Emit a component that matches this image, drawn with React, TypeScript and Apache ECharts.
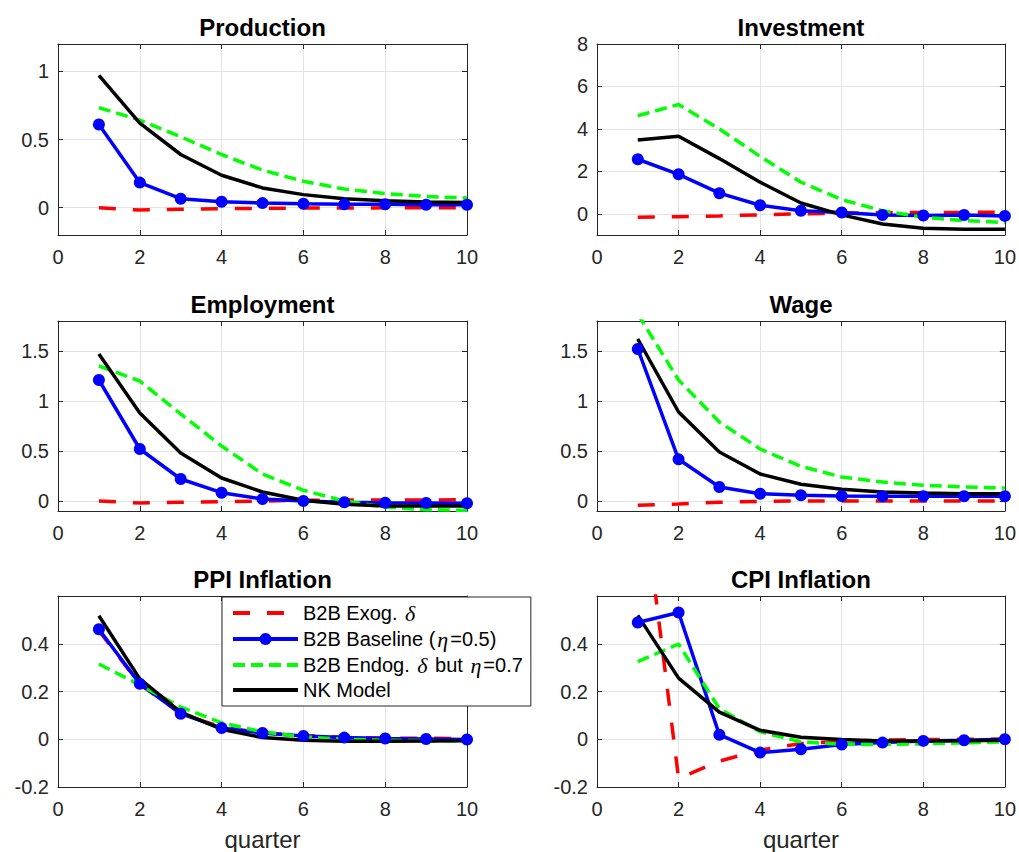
import React, { useEffect, useRef } from 'react';
import * as echarts from 'echarts';

// ---------------- data ----------------
const quarters = [1, 2, 3, 4, 5, 6, 7, 8, 9, 10];
const xTicks = [0, 2, 4, 6, 8, 10];

const seriesNames = ['B2B Exog. δ', 'B2B Baseline (η=0.5)', 'B2B Endog. δ but  η=0.7', 'NK Model'];
const panelTitles = ['Production', 'Investment', 'Employment', 'Wage', 'PPI Inflation', 'CPI Inflation'];

// Production
const prodExog = [0, -0.017, -0.012, -0.007, -0.005, -0.003, -0.002, -0.001, -0.001, 0];
const prodBase = [0.61, 0.184, 0.066, 0.044, 0.034, 0.029, 0.025, 0.025, 0.022, 0.022];
const prodEndog = [0.733, 0.642, 0.52, 0.39, 0.275, 0.194, 0.137, 0.103, 0.083, 0.071];
const prodNK = [0.97, 0.62, 0.39, 0.238, 0.145, 0.096, 0.066, 0.051, 0.042, 0.039];

// Investment
const invExog = [-0.16, -0.14, -0.1, -0.05, 0, 0.03, 0.05, 0.06, 0.06, 0.08];
const invBase = [2.57, 1.86, 0.97, 0.4, 0.14, 0.06, -0.06, -0.08, -0.06, -0.1];
const invEndog = [4.62, 5.15, 4.0, 2.7, 1.49, 0.67, 0.14, -0.16, -0.32, -0.41];
const invNK = [3.48, 3.65, 2.6, 1.49, 0.51, -0.05, -0.48, -0.68, -0.73, -0.73];

// Employment
const empExog = [0, -0.02, -0.013, -0.007, 0, 0.007, 0.01, 0.01, 0.01, 0.013];
const empBase = [1.21, 0.52, 0.22, 0.083, 0.02, 0, -0.013, -0.017, -0.02, -0.023];
const empEndog = [1.35, 1.2, 0.87, 0.55, 0.27, 0.107, 0, -0.06, -0.087, -0.093];
const empNK = [1.47, 0.88, 0.48, 0.23, 0.09, 0.007, -0.033, -0.05, -0.05, -0.05];

// Wage
const wageExog = [-0.043, -0.03, -0.013, -0.003, 0, 0, 0, 0, 0, 0];
const wageBase = [1.52, 0.417, 0.14, 0.073, 0.057, 0.05, 0.047, 0.047, 0.047, 0.047];
const wageEndog = [1.87, 1.21, 0.79, 0.52, 0.347, 0.24, 0.19, 0.157, 0.14, 0.13];
const wageNK = [1.62, 0.89, 0.49, 0.27, 0.167, 0.117, 0.09, 0.08, 0.073, 0.073];

// PPI Inflation
const ppiExog = [0.455, 0.23, 0.108, 0.05, 0.027, 0.016, 0.008, 0.005, 0.004, 0.003];
const ppiBase = [0.461, 0.232, 0.107, 0.047, 0.026, 0.014, 0.007, 0.003, 0.001, -0.001];
const ppiEndog = [0.315, 0.228, 0.135, 0.069, 0.031, 0.01, 0, -0.004, -0.006, -0.007];
const ppiNK = [0.517, 0.253, 0.114, 0.042, 0.007, -0.004, -0.008, -0.008, -0.007, -0.006];

// CPI Inflation
const cpiExog = [1.2, -0.164, -0.092, -0.045, -0.018, -0.008, -0.004, -0.001, 0, 0];
const cpiBase = [0.489, 0.531, 0.019, -0.056, -0.042, -0.022, -0.014, -0.007, -0.004, 0];
const cpiEndog = [0.325, 0.399, 0.128, 0.031, -0.011, -0.021, -0.022, -0.019, -0.015, -0.011];
const cpiNK = [0.519, 0.256, 0.114, 0.0375, 0.008, -0.001, -0.007, -0.007, -0.006, -0.004];

const panelData = [
  [prodExog, prodBase, prodEndog, prodNK],
  [invExog, invBase, invEndog, invNK],
  [empExog, empBase, empEndog, empNK],
  [wageExog, wageBase, wageEndog, wageNK],
  [ppiExog, ppiBase, ppiEndog, ppiNK],
  [cpiExog, cpiBase, cpiEndog, cpiNK],
];

const yMins = [-0.2, -1, -0.1, -0.1, -0.2, -0.2];
const yMaxs = [1.2, 8, 1.8, 1.8, 0.6, 0.6];
const yTicks = [
  [0, 0.5, 1],
  [0, 2, 4, 6, 8],
  [0, 0.5, 1, 1.5],
  [0, 0.5, 1, 1.5],
  [-0.2, 0, 0.2, 0.4],
  [-0.2, 0, 0.2, 0.4],
];

// ---------------- layout / style ----------------
const gridRects = [
  { left: 58, top: 44, width: 409, height: 191 },
  { left: 597, top: 44, width: 411, height: 191 },
  { left: 58, top: 321, width: 409, height: 190 },
  { left: 597, top: 321, width: 411, height: 190 },
  { left: 58, top: 596, width: 409, height: 191 },
  { left: 597, top: 596, width: 411, height: 191 },
];

const FONT = '"Liberation Sans", Arial, Helvetica, sans-serif';
const SERIF = '"Liberation Serif", "DejaVu Serif", serif';
const AX = '#262626';
const GRIDC = '#e3e3e3';

const seriesStyles = [
  { color: '#ff0000', width: 3.5, type: [17, 17] as any, symbol: 'none' },
  { color: '#0000ff', width: 3.5, type: 'solid' as any, symbol: 'circle' },
  { color: '#00ff00', width: 3.5, type: [12, 6] as any, symbol: 'none' },
  { color: '#000000', width: 3.5, type: 'solid' as any, symbol: 'none' },
];

function buildOption() {
  const grid: any[] = [];
  const xAxis: any[] = [];
  const yAxis: any[] = [];
  const series: any[] = [];

  gridRects.forEach((r, i) => {
    grid.push({ ...r, containLabel: false, show: false });
    const lineStyle = { color: AX, width: 1 };
    // bottom x
    xAxis.push({
      type: 'value', gridIndex: i, position: 'bottom', min: 0, max: 10, interval: 2,
      axisLine: { show: true, onZero: false, lineStyle },
      axisTick: { show: true, inside: true, length: 5, lineStyle },
      axisLabel: { show: true, margin: 12, fontSize: 20, fontFamily: FONT, color: AX,
        customValues: xTicks },
      splitLine: { show: true, lineStyle: { color: GRIDC, width: 1 } },
      name: i >= 4 ? 'quarter' : '',
      nameLocation: 'middle', nameGap: 40,
      nameTextStyle: { fontSize: 24, fontFamily: FONT, color: AX },
    });
    // top x (box + title)
    xAxis.push({
      type: 'value', gridIndex: i, position: 'top', min: 0, max: 10, interval: 2,
      axisLine: { show: true, onZero: false, lineStyle },
      axisTick: { show: true, inside: true, length: 5, lineStyle },
      axisLabel: { show: false },
      splitLine: { show: false },
      name: panelTitles[i],
      nameLocation: 'middle', nameGap: 5,
      nameTextStyle: { fontSize: 24, fontWeight: 'bold', fontFamily: FONT, color: '#000' },
    });
    // left y
    yAxis.push({
      type: 'value', gridIndex: i, position: 'left', min: yMins[i], max: yMaxs[i],
      axisLine: { show: true, onZero: false, lineStyle },
      axisTick: { show: true, inside: true, length: 5, lineStyle, customValues: yTicks[i] },
      axisLabel: { show: true, margin: 9, fontSize: 20, fontFamily: FONT, color: AX,
        customValues: yTicks[i], formatter: (v: number) => String(Math.round(v * 100) / 100) },
      splitLine: { show: true, lineStyle: { color: GRIDC, width: 1 } },
    });
    // right y
    yAxis.push({
      type: 'value', gridIndex: i, position: 'right', min: yMins[i], max: yMaxs[i],
      axisLine: { show: true, onZero: false, lineStyle },
      axisTick: { show: true, inside: true, length: 5, lineStyle, customValues: yTicks[i] },
      axisLabel: { show: false },
      splitLine: { show: false },
    });

    panelData[i].forEach((vals, s) => {
      const st = seriesStyles[s];
      series.push({
        type: 'line',
        name: seriesNames[s],
        xAxisIndex: 2 * i,
        yAxisIndex: 2 * i,
        data: quarters.map((q, k) => [q, vals[k]]),
        symbol: st.symbol,
        symbolSize: 12,
        showSymbol: st.symbol !== 'none',
        clip: true,
        silent: true,
        lineStyle: { color: st.color, width: st.width, type: st.type },
        itemStyle: { color: st.color },
      });
    });
  });

  const legendLabels: Record<string, string> = {
    [seriesNames[0]]: 'B2B Exog. {g|δ}',
    [seriesNames[1]]: 'B2B Baseline ({g|η}=0.5)',
    [seriesNames[2]]: 'B2B Endog. {g|δ} but {g|η}=0.7',
    [seriesNames[3]]: 'NK Model',
  };

  return {
    animation: false,
    backgroundColor: '#ffffff',
    grid,
    xAxis,
    yAxis,
    series,
    legend: {
      show: true,
      left: 222,
      top: 597,
      orient: 'vertical',
      align: 'left',
      itemWidth: 65,
      itemHeight: 15,
      itemGap: 4,
      padding: [5, 8, 6, 9],
      backgroundColor: '#ffffff',
      borderColor: AX,
      borderWidth: 1,
      borderRadius: 0,
      selectedMode: false,
      lineStyle: { width: 4 },
      data: seriesNames.map((n, s) =>
        seriesStyles[s].symbol === 'none' ? { name: n, itemStyle: { opacity: 0 } } : { name: n }
      ),
      formatter: (name: string) => legendLabels[name] || name,
      textStyle: {
        fontSize: 20,
        fontFamily: FONT,
        color: '#000',
        rich: {
          g: { fontSize: 22, fontStyle: 'italic', fontFamily: SERIF, color: '#000', padding: [0, 2, 0, 2] },
        },
      },
    },
  };
}

export default function App() {
  const ref = useRef<HTMLDivElement>(null);
  useEffect(() => {
    if (!ref.current) return;
    const chart = echarts.init(ref.current, null, { renderer: 'svg' });
    chart.setOption(buildOption() as any);
    return () => chart.dispose();
  }, []);
  return (
    <div
      ref={ref}
      style={{ position: 'absolute', left: 0, top: 0, width: 1019, height: 852, background: '#fff' }}
    />
  );
}
